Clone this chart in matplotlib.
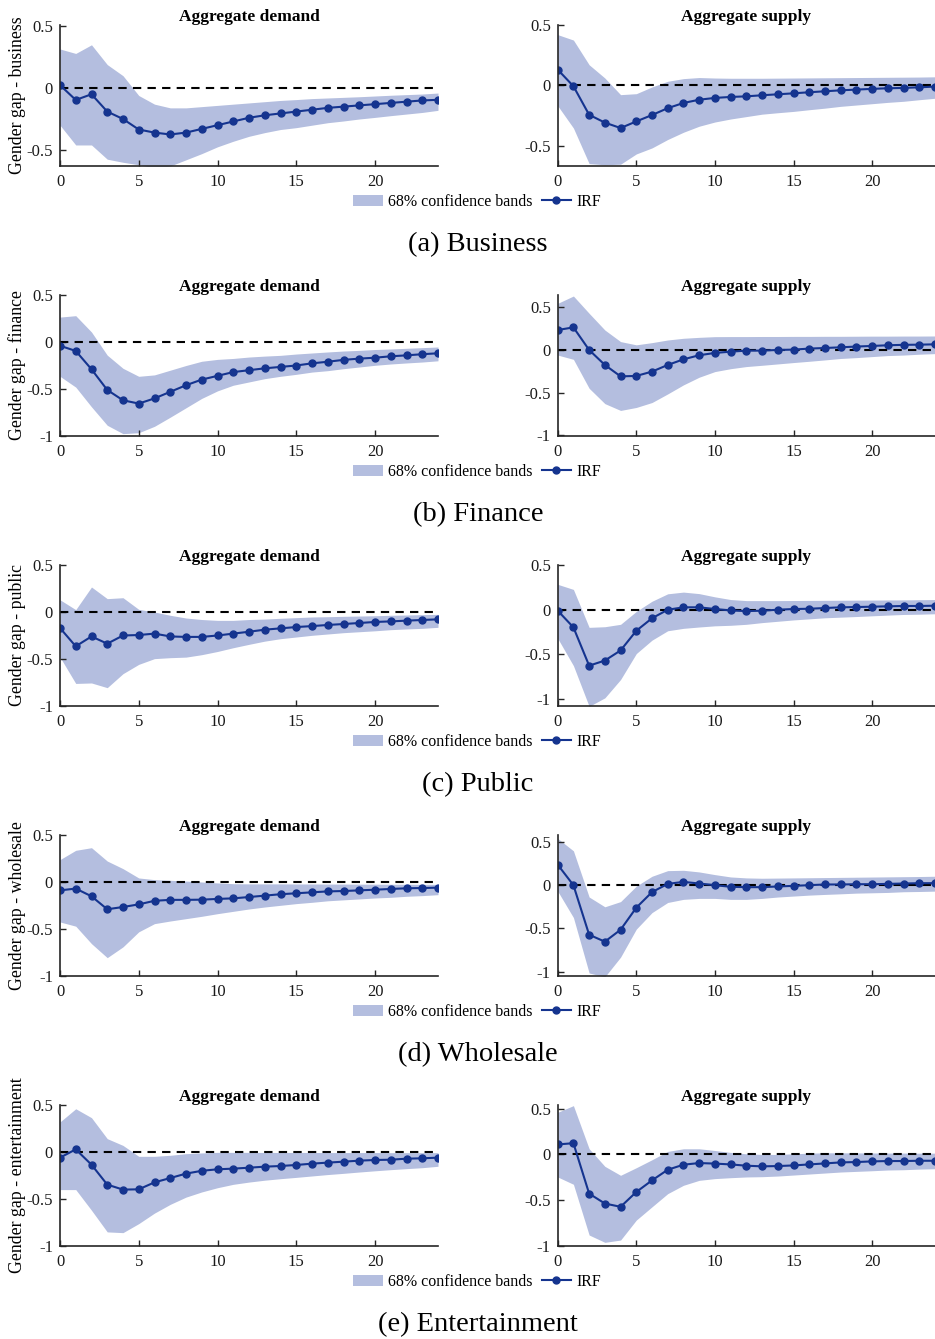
import numpy as np
import matplotlib
matplotlib.use("Agg")
import matplotlib.pyplot as plt
from matplotlib.patches import Patch
from matplotlib.lines import Line2D

plt.rcParams["font.family"] = ["Liberation Serif", "DejaVu Serif"]
plt.rcParams["axes.unicode_minus"] = False

horizon = np.arange(25)
xticks = [0, 5, 10, 15, 20]

# ---- (a) Business ----
business_ad_irf = [0.024, -0.096, -0.05, -0.19, -0.25, -0.335, -0.36, -0.375, -0.36, -0.33, -0.30, -0.27, -0.24,
                   -0.22, -0.205, -0.19, -0.175, -0.16, -0.15, -0.14, -0.13, -0.12, -0.11, -0.10, -0.095]
business_ad_hi = [0.316, 0.28, 0.35, 0.19, 0.10, -0.06, -0.13, -0.16, -0.16, -0.15, -0.14, -0.13, -0.12,
                  -0.11, -0.10, -0.093, -0.085, -0.08, -0.075, -0.07, -0.064, -0.058, -0.053, -0.048, -0.04]
business_ad_lo = [-0.30, -0.46, -0.46, -0.575, -0.60, -0.62, -0.645, -0.63, -0.58, -0.53, -0.475, -0.43, -0.39,
                  -0.36, -0.335, -0.32, -0.30, -0.28, -0.266, -0.25, -0.237, -0.223, -0.21, -0.197, -0.18]
business_as_irf = [0.13, -0.008, -0.245, -0.31, -0.355, -0.30, -0.247, -0.19, -0.147, -0.12, -0.105, -0.097, -0.092,
                   -0.083, -0.075, -0.067, -0.058, -0.05, -0.042, -0.036, -0.03, -0.025, -0.022, -0.017, -0.011]
business_as_hi = [0.42, 0.375, 0.17, 0.06, -0.078, -0.07, -0.014, 0.033, 0.055, 0.064, 0.06, 0.058, 0.058,
                  0.058, 0.059, 0.06, 0.061, 0.062, 0.063, 0.064, 0.065, 0.066, 0.067, 0.068, 0.07]
business_as_lo = [-0.17, -0.355, -0.65, -0.66, -0.655, -0.57, -0.52, -0.45, -0.39, -0.34, -0.305, -0.28, -0.26,
                  -0.24, -0.228, -0.217, -0.203, -0.19, -0.175, -0.164, -0.153, -0.142, -0.133, -0.12, -0.108]

# ---- (b) Finance ----
finance_ad_irf = [-0.04, -0.095, -0.29, -0.51, -0.62, -0.655, -0.60, -0.53, -0.46, -0.40, -0.36, -0.32, -0.30,
                  -0.28, -0.265, -0.25, -0.227, -0.21, -0.19, -0.177, -0.167, -0.152, -0.142, -0.13, -0.12]
finance_ad_hi = [0.265, 0.28, 0.106, -0.14, -0.28, -0.365, -0.35, -0.30, -0.25, -0.205, -0.185, -0.175, -0.16,
                 -0.15, -0.142, -0.128, -0.117, -0.106, -0.096, -0.089, -0.08, -0.074, -0.067, -0.06, -0.053]
finance_ad_lo = [-0.365, -0.48, -0.69, -0.886, -0.975, -0.965, -0.897, -0.80, -0.70, -0.60, -0.52, -0.46, -0.425,
                 -0.39, -0.365, -0.344, -0.32, -0.305, -0.284, -0.266, -0.248, -0.234, -0.223, -0.213, -0.20]
finance_as_irf = [0.234, 0.265, 0.0, -0.176, -0.31, -0.305, -0.254, -0.176, -0.11, -0.062, -0.035, -0.02, -0.008,
                  -0.008, 0.0, 0.004, 0.016, 0.023, 0.031, 0.04, 0.047, 0.055, 0.06, 0.062, 0.066]
finance_as_hi = [0.547, 0.633, 0.43, 0.234, 0.098, 0.06, 0.086, 0.117, 0.137, 0.148, 0.156, 0.157, 0.157,
                 0.158, 0.158, 0.159, 0.159, 0.16, 0.16, 0.161, 0.162, 0.162, 0.163, 0.163, 0.164]
finance_as_lo = [-0.06, -0.11, -0.45, -0.63, -0.71, -0.675, -0.617, -0.516, -0.41, -0.32, -0.254, -0.22, -0.195,
                 -0.18, -0.164, -0.148, -0.133, -0.117, -0.10, -0.09, -0.078, -0.066, -0.06, -0.05, -0.043]

# ---- (c) Public ----
public_ad_irf = [-0.17, -0.365, -0.26, -0.337, -0.25, -0.245, -0.23, -0.26, -0.265, -0.265, -0.25, -0.23, -0.21,
                 -0.188, -0.174, -0.16, -0.15, -0.138, -0.128, -0.117, -0.106, -0.10, -0.092, -0.085, -0.078]
public_ad_hi = [0.13, 0.025, 0.266, 0.142, 0.152, 0.028, 0.0, -0.035, -0.064, -0.08, -0.089, -0.089, -0.08,
                -0.075, -0.067, -0.06, -0.053, -0.05, -0.046, -0.043, -0.04, -0.035, -0.032, -0.028, -0.025]
public_ad_lo = [-0.48, -0.76, -0.755, -0.805, -0.656, -0.557, -0.496, -0.486, -0.48, -0.454, -0.42, -0.38, -0.344,
                -0.31, -0.284, -0.266, -0.248, -0.234, -0.22, -0.21, -0.20, -0.188, -0.18, -0.174, -0.163]
public_as_irf = [-0.01, -0.197, -0.625, -0.568, -0.455, -0.235, -0.095, 0.0, 0.027, 0.027, 0.008, -0.008, -0.015,
                 -0.011, 0.0, 0.008, 0.011, 0.019, 0.027, 0.03, 0.034, 0.038, 0.042, 0.042, 0.045]
public_as_hi = [0.284, 0.227, -0.197, -0.19, -0.163, -0.019, 0.095, 0.178, 0.197, 0.18, 0.144, 0.114, 0.102,
                0.102, 0.102, 0.103, 0.104, 0.105, 0.106, 0.107, 0.108, 0.109, 0.11, 0.112, 0.114]
public_as_lo = [-0.32, -0.625, -1.08, -0.985, -0.78, -0.49, -0.34, -0.235, -0.208, -0.193, -0.18, -0.174, -0.163,
                -0.144, -0.129, -0.114, -0.102, -0.09, -0.083, -0.076, -0.068, -0.06, -0.053, -0.05, -0.045]

# ---- (d) Wholesale ----
wholesale_ad_irf = [-0.089, -0.07, -0.152, -0.29, -0.266, -0.238, -0.20, -0.19, -0.19, -0.188, -0.18, -0.174, -0.16,
                    -0.145, -0.13, -0.12, -0.11, -0.10, -0.096, -0.089, -0.082, -0.074, -0.067, -0.064, -0.06]
wholesale_ad_hi = [0.238, 0.337, 0.365, 0.223, 0.142, 0.043, 0.025, 0.018, 0.01, 0.0, -0.01, -0.018, -0.02,
                   -0.02, -0.02, -0.021, -0.021, -0.022, -0.022, -0.023, -0.023, -0.024, -0.024, -0.025, -0.025]
wholesale_ad_lo = [-0.425, -0.47, -0.656, -0.805, -0.69, -0.53, -0.443, -0.415, -0.39, -0.365, -0.337, -0.312, -0.287,
                   -0.266, -0.248, -0.23, -0.216, -0.20, -0.19, -0.18, -0.17, -0.163, -0.152, -0.145, -0.135]
wholesale_as_irf = [0.237, 0.0, -0.573, -0.653, -0.515, -0.26, -0.08, 0.015, 0.038, 0.019, 0.0, -0.019, -0.023,
                    -0.023, -0.015, -0.008, 0.0, 0.008, 0.008, 0.011, 0.011, 0.015, 0.019, 0.023, 0.023]
wholesale_as_hi = [0.54, 0.397, -0.137, -0.25, -0.19, -0.011, 0.103, 0.168, 0.172, 0.153, 0.122, 0.095, 0.084,
                   0.08, 0.082, 0.084, 0.086, 0.088, 0.09, 0.092, 0.094, 0.096, 0.098, 0.10, 0.103]
wholesale_as_lo = [-0.069, -0.374, -1.015, -1.06, -0.832, -0.508, -0.317, -0.20, -0.164, -0.153, -0.153, -0.164, -0.164,
                   -0.153, -0.137, -0.126, -0.115, -0.107, -0.10, -0.092, -0.088, -0.084, -0.076, -0.073, -0.069]

# ---- (e) Entertainment ----
entertainment_ad_irf = [-0.06, 0.028, -0.135, -0.347, -0.40, -0.397, -0.323, -0.277, -0.23, -0.20, -0.184, -0.177,
                        -0.167, -0.156, -0.149, -0.138, -0.124, -0.113, -0.103, -0.092, -0.085, -0.082, -0.071,
                        -0.067, -0.06]
entertainment_ad_hi = [0.32, 0.46, 0.365, 0.142, 0.07, -0.046, -0.046, -0.035, -0.018, -0.01, -0.004, -0.004,
                       -0.004, -0.005, -0.005, -0.005, -0.005, -0.006, -0.006, -0.006, -0.006, -0.007, -0.007,
                       -0.007, -0.007]
entertainment_ad_lo = [-0.40, -0.40, -0.62, -0.85, -0.858, -0.762, -0.65, -0.557, -0.48, -0.425, -0.38, -0.344,
                       -0.32, -0.30, -0.284, -0.27, -0.255, -0.24, -0.227, -0.213, -0.20, -0.188, -0.177, -0.167,
                       -0.152]
entertainment_as_irf = [0.109, 0.123, -0.428, -0.536, -0.572, -0.41, -0.283, -0.167, -0.112, -0.094, -0.10, -0.109,
                        -0.123, -0.13, -0.127, -0.12, -0.109, -0.098, -0.087, -0.083, -0.076, -0.072, -0.072,
                        -0.069, -0.069]
entertainment_as_hi = [0.46, 0.533, 0.062, -0.13, -0.228, -0.145, -0.058, 0.033, 0.062, 0.062, 0.043, 0.022, 0.007,
                       0.0, 0.0, 0.007, 0.014, 0.018, 0.018, 0.017, 0.016, 0.015, 0.015, 0.014, 0.014]
entertainment_as_lo = [-0.246, -0.326, -0.88, -0.96, -0.935, -0.717, -0.572, -0.428, -0.337, -0.283, -0.264, -0.254,
                       -0.246, -0.243, -0.236, -0.225, -0.214, -0.203, -0.192, -0.185, -0.178, -0.17, -0.167,
                       -0.16, -0.156]

sector_names = ["business", "finance", "public", "wholesale", "entertainment"]
captions = ["(a) Business", "(b) Finance", "(c) Public", "(d) Wholesale", "(e) Entertainment"]
demand_series = [
    (business_ad_irf, business_ad_lo, business_ad_hi),
    (finance_ad_irf, finance_ad_lo, finance_ad_hi),
    (public_ad_irf, public_ad_lo, public_ad_hi),
    (wholesale_ad_irf, wholesale_ad_lo, wholesale_ad_hi),
    (entertainment_ad_irf, entertainment_ad_lo, entertainment_ad_hi),
]
supply_series = [
    (business_as_irf, business_as_lo, business_as_hi),
    (finance_as_irf, finance_as_lo, finance_as_hi),
    (public_as_irf, public_as_lo, public_as_hi),
    (wholesale_as_irf, wholesale_as_lo, wholesale_as_hi),
    (entertainment_as_irf, entertainment_as_lo, entertainment_as_hi),
]
demand_ylims = [(-0.63, 0.51), (-1.0, 0.5), (-1.0, 0.5), (-1.0, 0.5), (-1.0, 0.5)]
supply_ylims = [(-0.67, 0.5), (-1.01, 0.645), (-1.076, 0.5), (-1.05, 0.58), (-1.0, 0.54)]
demand_yticks = [[-0.5, 0, 0.5], [-1, -0.5, 0, 0.5], [-1, -0.5, 0, 0.5], [-1, -0.5, 0, 0.5], [-1, -0.5, 0, 0.5]]
supply_yticks = [[-0.5, 0, 0.5], [-1, -0.5, 0, 0.5], [-1, -0.5, 0, 0.5], [-1, -0.5, 0, 0.5], [-1, -0.5, 0, 0.5]]

BAND = "#b4bedf"
LINE = "#15348f"

W, H = 935, 1339
fig = plt.figure(figsize=(W / 100, H / 100), dpi=100)


def px_axes(x0, y0, x1, y1):
    return fig.add_axes([x0 / W, 1 - y1 / H, (x1 - x0) / W, (y1 - y0) / H])


def fmt(v):
    return "0" if v == 0 else ("%g" % v)


def draw_panel(ax, series, ylim, yticks, title):
    irf, lo, hi = series
    ax.fill_between(horizon, lo, hi, color=BAND, linewidth=0)
    ax.plot([0, 24], [0, 0], color="black", linestyle=(0, (4, 3)), linewidth=1.5)
    ax.plot(horizon, irf, color=LINE, linewidth=1.5, marker="o", markersize=5)
    ax.set_xlim(0, 24)
    ax.set_ylim(*ylim)
    ax.set_xticks(xticks)
    ax.set_xticklabels([str(t) for t in xticks])
    ax.set_yticks(yticks)
    ax.set_yticklabels([fmt(v) for v in yticks])
    for side in ("top", "right"):
        ax.spines[side].set_visible(False)
    for side in ("left", "bottom"):
        ax.spines[side].set_linewidth(1.2)
        ax.spines[side].set_color("#262626")
    ax.tick_params(direction="in", length=4, width=1, labelsize=12, colors="#262626",
                   labelcolor="#1a1a1a", pad=6)
    ax.tick_params(axis="y", pad=5)
    ax.set_title(title, fontsize=12.5, fontweight="bold", pad=3)


for r in range(5):
    off = 270 * r
    ax_d = px_axes(60, 25 + off, 438, 166 + off)
    draw_panel(ax_d, demand_series[r], demand_ylims[r], demand_yticks[r], "Aggregate demand")
    ax_d.set_ylabel("Gender gap - " + sector_names[r], fontsize=12.8)
    ax_d.yaxis.set_label_coords(-34 / 378, 0.5)

    ax_s = px_axes(557.7, 25 + off, 935, 166 + off)
    draw_panel(ax_s, supply_series[r], supply_ylims[r], supply_yticks[r], "Aggregate supply")

    handles = [Patch(facecolor=BAND, edgecolor="none"),
               Line2D([], [], color=LINE, linewidth=1.5, marker="o", markersize=5)]
    fig.legend(handles, ["68% confidence bands", "IRF"], loc="center",
               bbox_to_anchor=(477 / W, 1 - (202 + off) / H), ncol=2, frameon=False,
               fontsize=11.5, handlelength=1.85, handletextpad=0.3, columnspacing=0.6,
               borderpad=0, borderaxespad=0)

    fig.text(478 / W, 1 - (245 + off) / H, captions[r], ha="center", va="center", fontsize=20.5)

fig.savefig("out.png", dpi=100)
